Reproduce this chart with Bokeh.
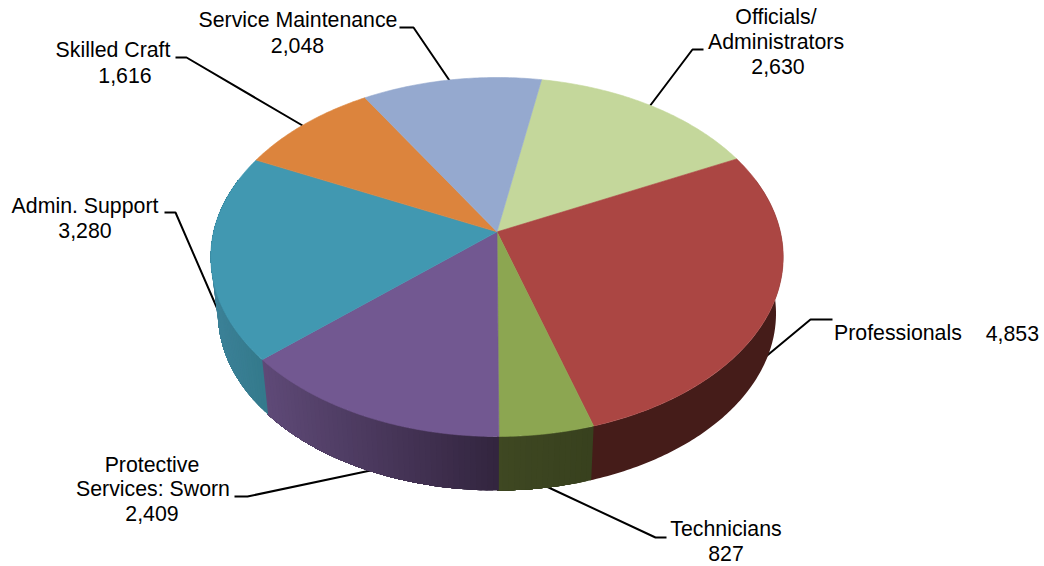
import math
from bokeh.plotting import figure
from bokeh.embed import file_html
from bokeh.resources import INLINE
from bokeh.core.properties import value

categories = ["Officials/ Administrators", "Professionals", "Technicians",
              "Protective Services: Sworn", "Admin. Support", "Skilled Craft", "Service Maintenance"]
values = [2630, 4853, 827, 2409, 3280, 1616, 2048]
top_colors = ["#c4d79b", "#ab4643", "#8ca651", "#725891", "#4198b1", "#dc843d", "#95a9cf"]
side_left = ["#6e8048", "#451c19", "#3f4822", "#5f4a78", "#3c8198", "#7a4a22", "#55607a"]
side_right = ["#6e8048", "#451c19", "#38411e", "#33253f", "#347a8c", "#7a4a22", "#55607a"]

# text, x, y, anchor
labels = [
    ("Service Maintenance", 297.5, 19.5, "center"), ("2,048", 297, 44.5, "center"),
    ("Skilled Craft", 112.5, 49.5, "center"), ("1,616", 124.5, 74.5, "center"),
    ("Admin. Support", 84.5, 205.5, "center"), ("3,280", 84.5, 229.5, "center"),
    ("Officials/", 775.5, 16.5, "center"), ("Administrators", 775.5, 41.5, "center"), ("2,630", 777.5, 65.5, "center"),
    ("Professionals", 833.5, 332.5, "left"), ("4,853", 1038.5, 332.5, "right"),
    ("Technicians", 725.5, 528.5, "center"), ("827", 725.5, 552.5, "center"),
    ("Protective", 151.5, 464.5, "center"), ("Services: Sworn", 152.5, 488.5, "center"), ("2,409", 151.5, 512.5, "center"),
]
leaders = [
    ([399, 413, 449], [27, 27, 80]),
    ([175, 186, 302], [57, 57, 125]),
    ([164, 175, 218], [212, 212, 311]),
    ([703, 692, 649], [49, 49, 106]),
    ([832, 810, 763], [319, 319, 358]),
    ([666, 655, 546], [537, 537, 486]),
    ([234, 247, 370], [496, 496, 470]),
]

START_DEG = 10.3
PERSP = -0.14
TOP = (496.5, 256.5, 286.2, 179.5)
BOTTOM = (496.5, 313.0, 279.0, 177.0)


def project(deg, ellipse):
    cx, cy, rx, ry = ellipse
    X, Y = math.sin(math.radians(deg)), -math.cos(math.radians(deg))
    d = 1 + PERSP * Y
    return cx + rx * X * math.sqrt(1 - PERSP ** 2) / d, cy + ry * (Y + PERSP) / d


def mix(c1, c2, t):
    a = [int(c1[i:i + 2], 16) for i in (1, 3, 5)]
    b = [int(c2[i:i + 2], 16) for i in (1, 3, 5)]
    return "#%02x%02x%02x" % tuple(round(p + (q - p) * t) for p, q in zip(a, b))


p = figure(width=1044, height=566, x_range=(0, 1044), y_range=(566, 0),
           toolbar_location=None, output_backend="svg", min_border=0)
p.axis.visible = False
p.grid.visible = False
p.outline_line_color = None
p.background_fill_color = "white"
p.border_fill_color = "white"

for xs, ys in leaders:
    p.line(xs, ys, line_color="black", line_width=2)

total = sum(values)
angles = [START_DEG]
for v in values:
    angles.append(angles[-1] + v / total * 360)

# sides: painter's order, each band reaches to the slice's far end, so no seams show
RIM_LIMIT = 72.0
sx, sy, sc = [], [], []
for i in range(len(values)):
    a0 = max(angles[i], RIM_LIMIT)
    a1 = min(angles[i + 1] + 0.3, 360 - RIM_LIMIT)
    if a1 <= a0:
        continue
    same = side_left[i] == side_right[i]
    n = 1 if same else max(4, int((a1 - a0) / 1.0))
    fine = max(8, int((a1 - a0) * 1.5))
    grid = [a0 + (a1 - a0) * k / fine for k in range(fine + 1)]
    xs_top = [project(a, TOP)[0] for a in grid]
    xmin, xmax = min(xs_top), max(xs_top)
    for k in range(n):
        start = a0 + (a1 - a0) * k / n
        sub = [a for a in grid if a >= start]
        if sub[0] > start:
            sub = [start] + sub
        upper = [project(a, TOP) for a in sub]
        lower = [project(a, BOTTOM) for a in reversed(sub)]
        t = (project(start, TOP)[0] - xmin) / max(xmax - xmin, 1)
        sx.append([q[0] for q in upper + lower])
        sy.append([q[1] for q in upper + lower])
        sc.append(mix(side_left[i], side_right[i], t))
p.patches(sx, sy, fill_color=sc, line_color=None)

# top face
apex = (TOP[0], TOP[1] + TOP[3] * PERSP)
tx, ty = [], []
for i in range(len(values)):
    a0, a1 = angles[i], angles[i + 1]
    n = max(8, int((a1 - a0) * 1.5))
    arc = [project(a0 + (a1 - a0) * k / n, TOP) for k in range(n + 1)]
    tx.append([apex[0]] + [q[0] for q in arc])
    ty.append([apex[1]] + [q[1] for q in arc])
p.patches(tx, ty, fill_color=top_colors, line_color=top_colors, line_width=0.6)

for txt, x, y, anchor in labels:
    p.text([x], [y], text=[txt], text_font=value("Liberation Sans"), text_font_size="21.3px",
           text_color="black", text_align=anchor, text_baseline="middle")

open("out.html", "w").write(file_html(p, INLINE))
